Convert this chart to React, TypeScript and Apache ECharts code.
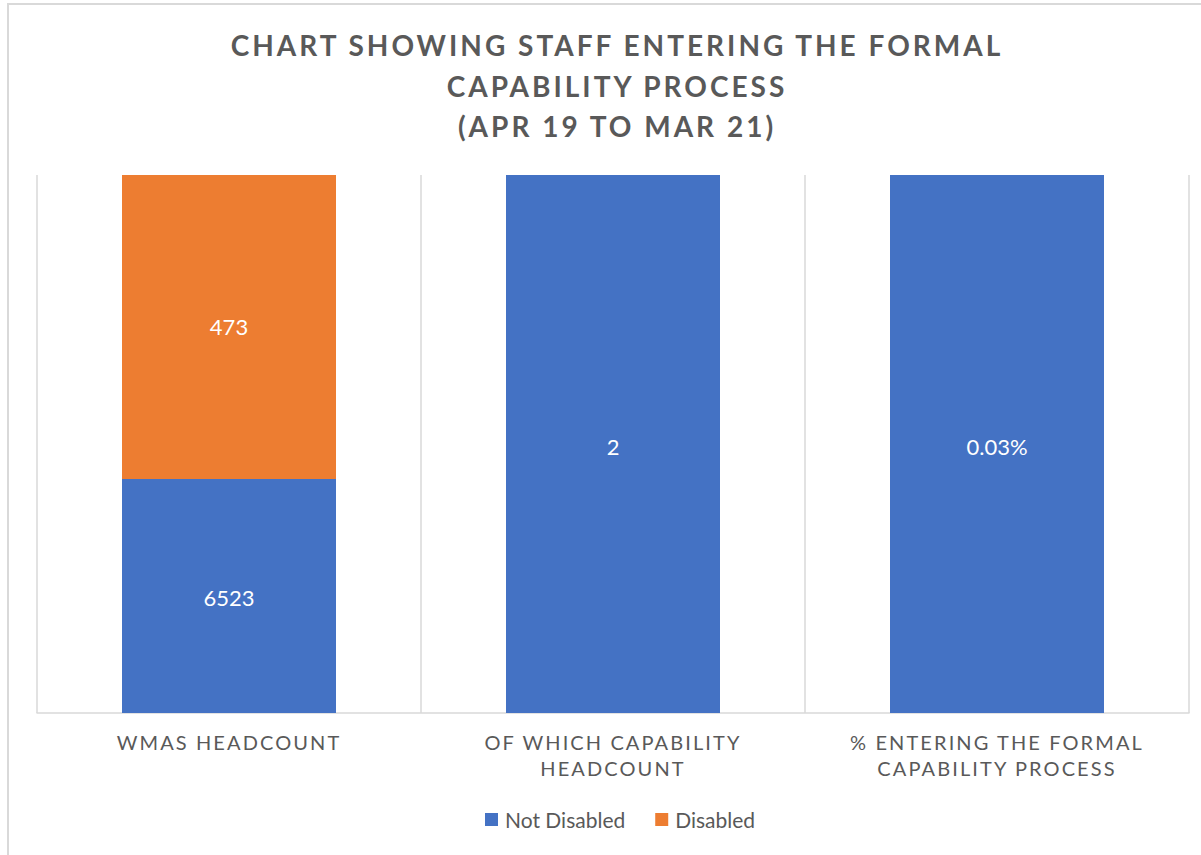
import React, { useEffect, useRef } from "react";
import * as echarts from "echarts";

const titleLines = [
  "CHART SHOWING STAFF ENTERING THE FORMAL",
  "CAPABILITY PROCESS",
  "(APR 19 TO MAR 21)",
];
const categories = [
  "WMAS HEADCOUNT",
  "OF WHICH CAPABILITY\nHEADCOUNT",
  "% ENTERING THE FORMAL\nCAPABILITY PROCESS",
];
const seriesNames = ["Not Disabled", "Disabled"];
// share of each column's height as drawn in the picture (percent of plot height)
const notDisabledShare = [43.5, 100, 100];
const disabledShare = [56.5, 0, 0];
// value labels shown on the columns
const notDisabledLabels = ["6523", "2", "0.03%"];
const disabledLabels = ["473", "", ""];

const BLUE = "#4472C4";
const ORANGE = "#ED7D31";
const GREY_TEXT = "#595959";
const GRID_LINE = "#d9d9d9";
const TITLE_FONT = "Lato, LatoTitleMark, sans-serif";
const AXIS_FONT = "Lato, LatoAxisMark, sans-serif";
const PLAIN = "Lato, sans-serif";

const css = `
#root text[style*="LatoTitleMark"], #root text[font-family*="LatoTitleMark"] { letter-spacing: 3px; }
#root text[style*="LatoAxisMark"], #root text[font-family*="LatoAxisMark"] { letter-spacing: 2.1px; }
`;

export default function App() {
  const ref = useRef<HTMLDivElement>(null);
  useEffect(() => {
    if (!ref.current) return;
    const chart = echarts.init(ref.current, null, { renderer: "svg" });
    chart.setOption({
      animation: false,
      backgroundColor: "#ffffff",
      title: {
        text: titleLines.join("\n"),
        left: 612,
        top: 20,
        textAlign: "center",
        textStyle: {
          fontFamily: TITLE_FONT,
          fontSize: 28,
          fontWeight: "bold",
          color: GREY_TEXT,
          lineHeight: 40.5,
        },
      },
      graphic: [
        {
          type: "rect",
          z: -1,
          shape: { x: 8, y: 4, width: 1230, height: 900 },
          style: { fill: "transparent", stroke: GRID_LINE, lineWidth: 2 },
          silent: true,
        },
      ],
      legend: {
        data: seriesNames,
        left: 480,
        top: 804,
        icon: "rect",
        itemWidth: 13,
        itemHeight: 13,
        itemGap: 30,
        textStyle: {
          fontFamily: PLAIN,
          fontSize: 21,
          color: GREY_TEXT,
          padding: [0, 0, 0, 2],
        },
      },
      grid: { left: 37, right: 12, top: 175, bottom: 142, containLabel: false },
      xAxis: {
        type: "category",
        data: categories,
        axisLine: { lineStyle: { color: GRID_LINE, width: 1.5 } },
        axisTick: { show: false },
        splitLine: { show: true, lineStyle: { color: GRID_LINE, width: 1.5 } },
        axisLabel: {
          interval: 0,
          margin: 16,
          fontFamily: AXIS_FONT,
          fontSize: 20,
          lineHeight: 26,
          color: GREY_TEXT,
        },
      },
      yAxis: { type: "value", min: 0, max: 100, show: false },
      series: [
        {
          name: seriesNames[0],
          type: "bar",
          stack: "total",
          barWidth: 214,
          itemStyle: { color: BLUE },
          data: notDisabledShare,
          label: {
            show: true,
            position: "inside",
            color: "#ffffff",
            fontFamily: PLAIN,
            fontSize: 22,
            offset: [0, 2],
            formatter: (p: any) => notDisabledLabels[p.dataIndex],
          },
        },
        {
          name: seriesNames[1],
          type: "bar",
          stack: "total",
          barWidth: 214,
          itemStyle: { color: ORANGE },
          data: disabledShare,
          label: {
            show: true,
            position: "inside",
            color: "#ffffff",
            fontFamily: PLAIN,
            fontSize: 22,
            formatter: (p: any) => disabledLabels[p.dataIndex],
          },
        },
      ],
    });
    return () => chart.dispose();
  }, []);
  return (
    <>
      <style>{css}</style>
      <div
        ref={ref}
        style={{ position: "absolute", left: 0, top: 0, width: 1201, height: 855 }}
      />
    </>
  );
}
